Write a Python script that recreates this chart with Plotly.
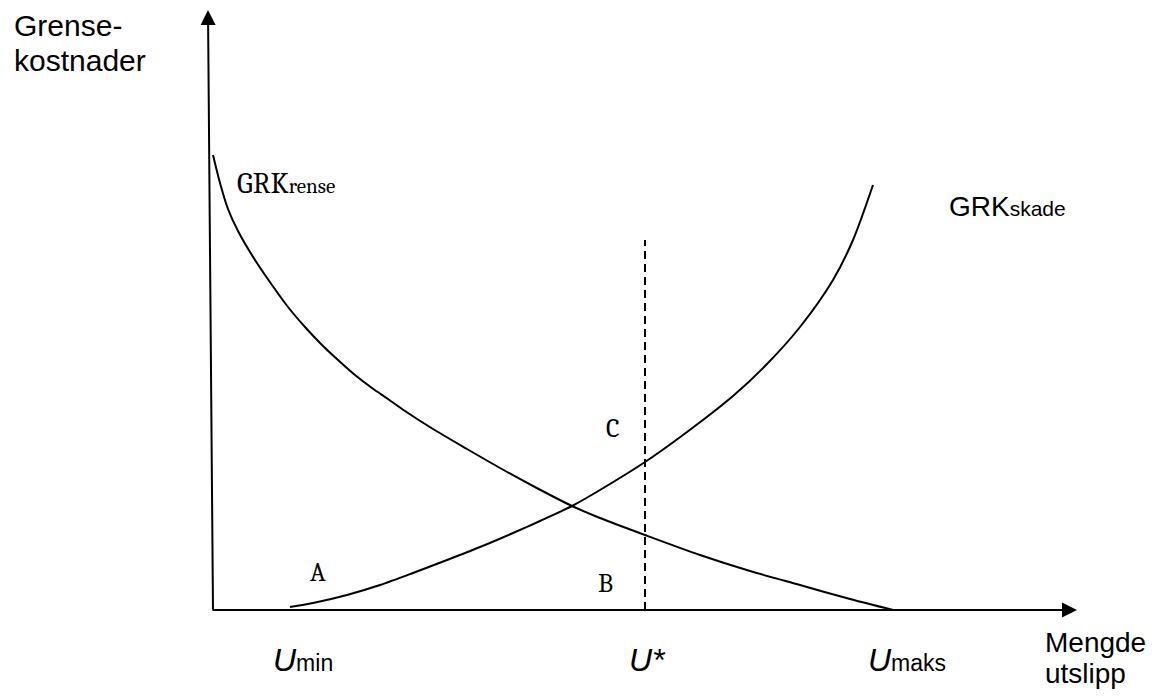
"""
Marginal cost diagram: GRK_rense vs GRK_skade with optimal emission U*.
"""

import plotly.graph_objects as go

# ── Data (origin at the axis corner) ──────────────────────────────────────────

rense_x = [0, 7, 15, 25, 42, 59, 75, 92, 109, 125, 142, 159, 175, 192, 220, 254,
           287, 320, 359, 387, 432, 487, 537, 587, 637, 680]
rense_y = [455, 427, 401, 379, 350, 325, 303, 283, 265, 250, 235, 222, 211, 199, 181, 161,
           142, 124, 104, 92, 75, 55, 39, 25, 11, 0]

skade_x = [77, 100, 134, 167, 200, 234, 267, 300, 327, 359, 387, 432, 470, 520, 554,
           587, 620, 640, 660]
skade_y = [3, 7, 15, 25, 37, 50, 63, 77, 89, 104, 120, 148, 175, 214, 246,
           283, 330, 370, 425]

u_star = 432
u_star_top = 370

x_axis_end = 864
y_axis_end = 600

SANS = "Arial, Liberation Sans, sans-serif"
SERIF = "Cambria, Liberation Serif, serif"
INK = "black"

fig = go.Figure()

fig.add_trace(go.Scatter(x=rense_x, y=rense_y, mode="lines",
                         line=dict(color=INK, width=2, shape="spline", smoothing=0.8),
                         hoverinfo="skip"))
fig.add_trace(go.Scatter(x=skade_x, y=skade_y, mode="lines",
                         line=dict(color=INK, width=2, shape="spline", smoothing=0.8),
                         hoverinfo="skip"))
fig.add_trace(go.Scatter(x=[u_star, u_star], y=[0, u_star_top], mode="lines",
                         line=dict(color=INK, width=2, dash="8px,5px"), hoverinfo="skip"))

# axes drawn as arrows
arrow = dict(xref="x", yref="y", axref="x", ayref="y", text="", showarrow=True,
             arrowhead=2, arrowsize=1.5, arrowwidth=2, arrowcolor=INK, standoff=0)
fig.add_annotation(x=x_axis_end, y=0, ax=-2, ay=0, **arrow)
fig.add_annotation(x=-5, y=y_axis_end, ax=0, ay=-1, **arrow)


def label(text, x, y, size, family=SANS, xanchor="center"):
    fig.add_annotation(x=x, y=y, xref="x", yref="y", text=text, showarrow=False,
                       xanchor=xanchor, yanchor="middle", align="left",
                       font=dict(family=family, size=size, color=INK))


label("Grense-", -201, 585, 30, xanchor="left")
label("kostnader", -201, 550, 30, xanchor="left")
label("Mengde", 830, -32, 28, xanchor="left")
label("utslipp", 830, -63, 28, xanchor="left")

label("GRK<span style='font-size:21px'>rense</span>", 22, 427, 29, family=SERIF, xanchor="left")
label("GRK<span style='font-size:21px'>skade</span>", 734, 404, 28, xanchor="left")

label("A", 105, 37, 26, family=SERIF)
label("B", 392, 26, 26, family=SERIF)
label("C", 400, 181, 26, family=SERIF)

label("<i>U</i><span style='font-size:23px'>min</span>", 90, -50, 32)
label("<i>U*</i>", 434, -50, 32)
label("<i>U</i><span style='font-size:23px'>maks</span>", 694, -50, 32)

# the page body adds an 8px margin, so the figure is 16px smaller than the window
fig.update_layout(
    width=1148, height=683, autosize=False,
    margin=dict(l=0, r=0, t=0, b=0),
    plot_bgcolor="white", paper_bgcolor="white",
    showlegend=False,
    xaxis=dict(range=[-205, 943], visible=False, fixedrange=True),
    yaxis=dict(range=[-81, 602], visible=False, fixedrange=True),
)

fig.write_html("out.html")
